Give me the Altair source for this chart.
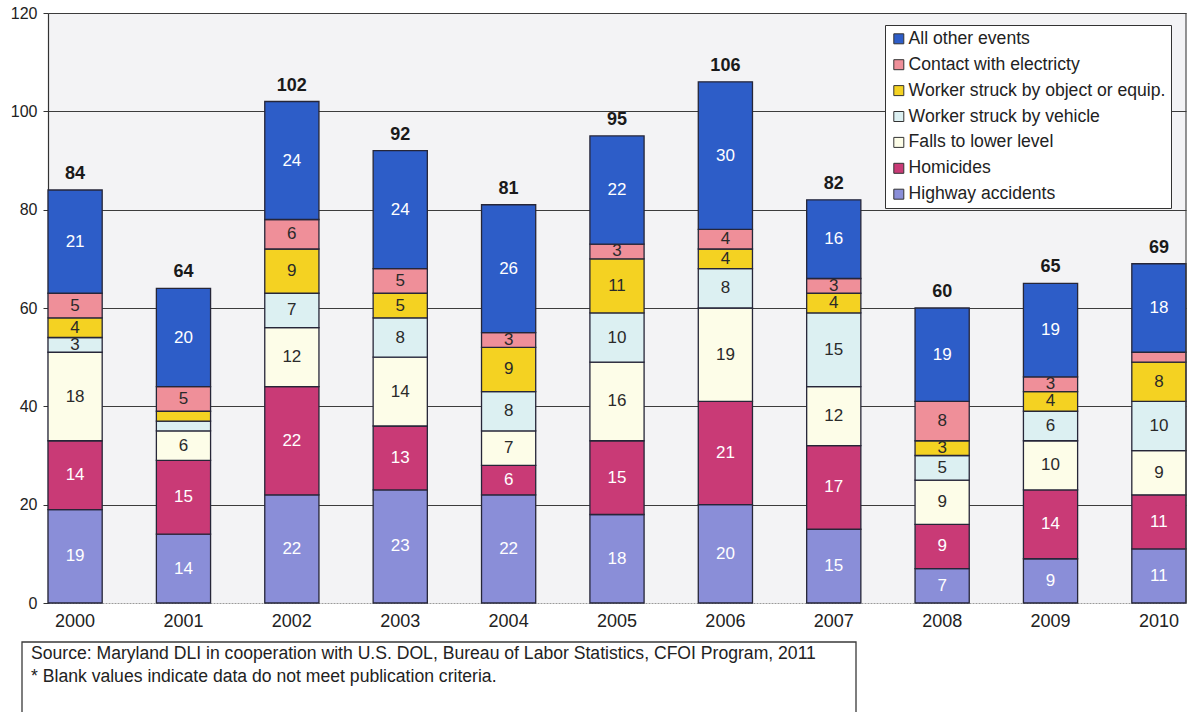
import altair as alt
import pandas as pd

# Maryland fatal occupational injuries by event, 2000-2010
years = ["2000", "2001", "2002", "2003", "2004", "2005", "2006", "2007", "2008", "2009", "2010"]

highway_accidents = [19, 14, 22, 23, 22, 18, 20, 15, 7, 9, 11]
homicides = [14, 15, 22, 13, 6, 15, 21, 17, 9, 14, 11]
falls_lower_level = [18, 6, 12, 14, 7, 16, 19, 12, 9, 10, 9]
struck_by_vehicle = [3, 2, 7, 8, 8, 10, 8, 15, 5, 6, 10]
struck_by_object = [4, 2, 9, 5, 9, 11, 4, 4, 3, 4, 8]
contact_electricity = [5, 5, 6, 5, 3, 3, 4, 3, 8, 3, 2]
all_other_events = [21, 20, 24, 24, 26, 22, 30, 16, 19, 19, 18]

# stacking order, bottom to top
series = [
    ("Highway accidents", highway_accidents),
    ("Homicides", homicides),
    ("Falls to lower level", falls_lower_level),
    ("Worker struck by vehicle", struck_by_vehicle),
    ("Worker struck by object or equip.", struck_by_object),
    ("Contact with electricty", contact_electricity),
    ("All other events", all_other_events),
]

# cells that do not meet publication criteria (value not printed)
unpublished = {
    ("2001", "Worker struck by vehicle"),
    ("2001", "Worker struck by object or equip."),
    ("2010", "Contact with electricty"),
}

source_lines = [
    "Source: Maryland DLI in cooperation with U.S. DOL, Bureau of Labor Statistics, CFOI Program, 2011",
    "* Blank values indicate data do not meet publication criteria.",
]

legend_order = [name for name, _ in series][::-1]
palette = {
    "All other events": "#2D5DC8",
    "Contact with electricty": "#EF8F99",
    "Worker struck by object or equip.": "#F4D222",
    "Worker struck by vehicle": "#DCF0F2",
    "Falls to lower level": "#FDFDE8",
    "Homicides": "#C93A76",
    "Highway accidents": "#8A8ED8",
}
light_text_series = {"All other events", "Homicides", "Highway accidents"}

rows = []
for rank, (name, values) in enumerate(series):
    for yr, v in zip(years, values):
        rows.append({
            "year": yr,
            "event": name,
            "rank": rank,
            "value": v,
            "label": "" if (yr, name) in unpublished else str(v),
            "ink": "#ffffff" if name in light_text_series else "#2a2a2a",
        })
df = pd.DataFrame(rows)

# single-row source for frame and note decorations
one_row = alt.Data(values=[{"k": 0}])

W, H = 1138, 590
FONT = "Liberation Sans"

x_enc = alt.X(
    "year:N",
    sort=years,
    title=None,
    scale=alt.Scale(paddingInner=0.5, paddingOuter=0),
    axis=alt.Axis(
        labelAngle=0, labelFontSize=18, labelColor="#222", labelPadding=9,
        ticks=False, domainColor="#9a9a9a", domainDash=[2, 1], domainWidth=1.2,
    ),
)
y_scale = alt.Scale(domain=[0, 120], nice=False)

base = alt.Chart(df).transform_stack(
    stack="value", groupby=["year"], as_=["v0", "v1"],
    sort=[alt.SortField("rank", order="ascending")],
).transform_calculate(mid="(datum.v0 + datum.v1) / 2")

bars = base.mark_bar(stroke="#262638", strokeWidth=1.3).encode(
    x=x_enc,
    y=alt.Y(
        "v0:Q", scale=y_scale, title=None,
        axis=alt.Axis(
            values=[0, 20, 40, 60, 80, 100, 120], labelFontSize=16, labelColor="#222",
            tickSize=5, tickColor="#333", labelPadding=6, domainColor="#333",
            domainWidth=1.2, grid=True, gridColor="#3c3c3c", gridWidth=1.1,
            gridOpacity={"condition": {"test": "datum.value === 0", "value": 0}, "value": 1},
        ),
    ),
    y2="v1:Q",
    color=alt.Color(
        "event:N",
        scale=alt.Scale(domain=legend_order, range=[palette[n] for n in legend_order]),
        legend=alt.Legend(
            title=None, orient="none", legendX=837, legendY=12,
            fillColor="#ffffff", strokeColor="#333", padding=5,
            labelFontSize=17.6, labelColor="#222", labelFont=FONT, labelOffset=1,
            symbolType="square", symbolSize=100, symbolStrokeColor="#333",
            symbolStrokeWidth=1, symbolOpacity=1, rowPadding=6.9, labelLimit=400,
        ),
    ),
)

segment_labels = base.mark_text(fontSize=17, font=FONT, baseline="middle").encode(
    x=alt.X("year:N", sort=years),
    y=alt.Y("mid:Q", scale=y_scale),
    text="label:N",
    color=alt.Color("ink:N", scale=None),
)

totals = alt.Chart(df).mark_text(
    fontSize=18, font=FONT, fontWeight="bold", color="#1a1a1a", baseline="middle", dy=-16,
).encode(
    x=alt.X("year:N", sort=years),
    y=alt.Y("sum(value):Q", scale=y_scale),
    text=alt.Text("sum(value):Q"),
)

# right edge of the plot frame
frame_right = alt.Chart(one_row).mark_rule(color="#3c3c3c", strokeWidth=1.1).encode(
    x=alt.value(W), y=alt.value(0), y2=alt.value(H)
)

# source note box under the chart
note_box = alt.Chart(one_row).mark_rect(
    fill="#ffffff", fillOpacity=0, stroke="#3a3a3a", strokeWidth=1.3
).encode(x=alt.value(-26), x2=alt.value(808), y=alt.value(629), y2=alt.value(720))

note_1 = alt.Chart(one_row).mark_text(
    text=source_lines[0], align="left", baseline="middle", fontSize=17.6, font=FONT, color="#222"
).encode(x=alt.value(-17), y=alt.value(641))
note_2 = alt.Chart(one_row).mark_text(
    text=source_lines[1], align="left", baseline="middle", fontSize=17.6, font=FONT, color="#222"
).encode(x=alt.value(-17), y=alt.value(664))

chart = alt.layer(
    bars, segment_labels, totals, frame_right, note_box, note_1, note_2
).properties(
    width=W, height=H,
    autosize=alt.AutoSizeParams(type="none"),
    padding={"left": 48, "top": 13, "right": 8, "bottom": 109},
    background="#ffffff",
).configure_view(
    fill="#f3f3f5", stroke=None,
).configure_axis(
    labelFont=FONT,
).configure_text(font=FONT)

chart.save("out.html", embed_options={"renderer": "svg", "actions": False})
